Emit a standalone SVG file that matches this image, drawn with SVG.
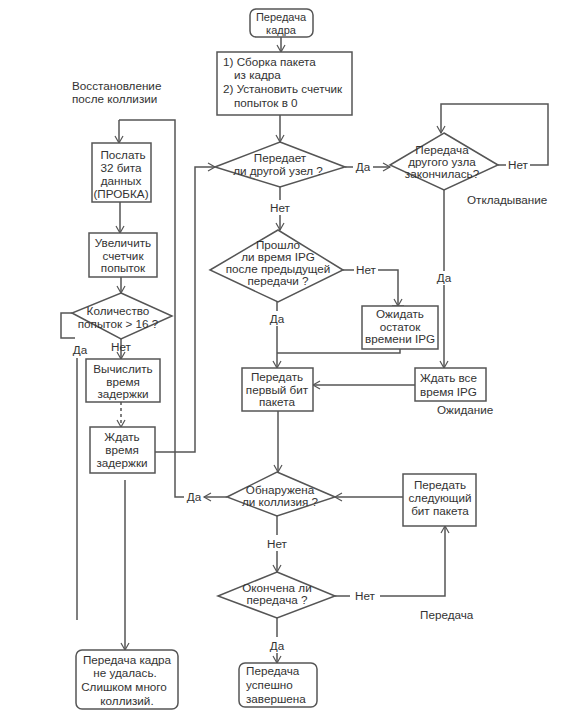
<svg xmlns="http://www.w3.org/2000/svg" width="568" height="720" viewBox="0 0 568 720">
<defs>
<marker id="arr" markerWidth="10" markerHeight="10" refX="8" refY="5" orient="auto" markerUnits="userSpaceOnUse">
<path d="M1,1 L8,5 L1,9" fill="none" stroke="#555" stroke-width="1.2"/>
</marker>
<style>
.s{fill:#fff;stroke:#555;stroke-width:1.5}
.c{fill:none;stroke:#555;stroke-width:1.5}
.ca{fill:none;stroke:#555;stroke-width:1.5;marker-end:url(#arr)}
text{font-family:"Liberation Sans",Arial,sans-serif;font-size:11.7px;fill:#333}
.m{text-anchor:middle}
</style>
</defs>
<rect width="568" height="720" fill="#fff"/>
<g id="connectors">
<path class="ca" d="M281,37 V52"/>
<path class="ca" d="M280,115 V142"/>
<path class="c" d="M345,167 H353"/>
<path class="ca" d="M373,167 H390"/>
<path class="c" d="M498,165 H506"/>
<path class="ca" d="M530,165 H548 V104 H441 V133"/>
<path class="c" d="M444,190 V271"/>
<path class="ca" d="M444,285 V368"/>
<path class="c" d="M280,187 V200"/>
<path class="ca" d="M280,215 V230"/>
<path class="c" d="M343,270 H354"/>
<path class="ca" d="M378,270 H398 V306"/>
<path class="c" d="M392,306 H404"/>
<path class="c" d="M400,349 V353 H277"/>
<path class="c" d="M277,302 V311"/>
<path class="ca" d="M277,326 V368"/>
<path class="ca" d="M415,385 H313"/>
<path class="ca" d="M278,411 V472"/>
<path class="ca" d="M403,497 H335"/>
<path class="ca" d="M227,497 H204"/>
<path class="c" d="M184,497 H175 V120 H119"/>
<path class="ca" d="M119,120 V143"/>
<path class="ca" d="M120,202 V233"/>
<path class="ca" d="M121,277 V293"/>
<path class="c" d="M72,313 H61 V338 H75"/>
<path class="ca" d="M121,339 V359"/>
<path class="ca" d="M121,402 V427" stroke-dasharray="3,3"/>
<path class="ca" d="M155,452 H195 V167 H215"/>
<path class="c" d="M77,358 V620"/>
<path class="ca" d="M125,480 V650"/>
<path class="c" d="M277,516 V535"/>
<path class="ca" d="M277,551 V572"/>
<path class="c" d="M335,596 H350"/>
<path class="ca" d="M380,596 H445 V526"/>
<path class="c" d="M277,618 V637"/>
<path class="ca" d="M277,653 V663"/>
</g>
<g id="n_start"><rect class="s" x="250" y="9" width="63" height="28" rx="6"/><text class="m" x="281" y="21" style="font-size:11px">Передача</text><text class="m" x="281" y="33.5" style="font-size:11px">кадра</text></g>
<g id="n_assemble"><rect class="s" x="217" y="52" width="135" height="63"/><text x="223" y="66">1) Сборка пакета</text><text x="234" y="79">из кадра</text><text x="223" y="93">2) Установить счетчик</text><text x="234" y="107">попыток в 0</text></g>
<g id="n_d1"><polygon class="s" points="280,142 345,167 280,187 215,167"/><text class="m" x="280" y="162">Передает</text><text class="m" x="278" y="175">ли другой узел ?</text></g>
<text class="m" x="363" y="171">Да</text>
<g id="n_d2"><polygon class="s" points="444,133 498,165 444,190 390,165"/><text class="m" x="442" y="154">Передача</text><text class="m" x="442" y="166">другого узла</text><text class="m" x="442" y="178">закончилась?</text></g>
<text class="m" x="518" y="169">Нет</text>
<text x="467" y="204">Откладывание</text>
<text class="m" x="444" y="282">Да</text>
<text class="m" x="280" y="212">Нет</text>
<g id="n_d3"><polygon class="s" points="278,230 343,270 278,302 210,270"/><text class="m" x="278" y="249">Прошло</text><text class="m" x="278" y="261">ли время IPG</text><text class="m" x="278" y="273">после предыдущей</text><text class="m" x="278" y="285">передачи ?</text></g>
<text class="m" x="366" y="274">Нет</text>
<text class="m" x="277" y="323">Да</text>
<g id="n_waitrest"><rect class="s" x="362" y="306" width="76" height="43"/><text class="m" x="400" y="318">Ожидать</text><text class="m" x="400" y="331">остаток</text><text class="m" x="400" y="343">времени IPG</text></g>
<g id="n_waitall"><rect class="s" x="415" y="368" width="71" height="33"/><text x="420" y="382">Ждать все</text><text x="420" y="396">время IPG</text></g>
<text x="437" y="414">Ожидание</text>
<g id="n_first"><rect class="s" x="242" y="368" width="71" height="43"/><text class="m" x="277" y="381">Передать</text><text class="m" x="277" y="394">первый бит</text><text class="m" x="277" y="406">пакета</text></g>
<g id="n_d4"><polygon class="s" points="277,472 335,497 277,516 227,497"/><text class="m" x="280" y="494">Обнаружена</text><text class="m" x="280" y="506">ли коллизия ?</text></g>
<text class="m" x="194" y="501">Да</text>
<g id="n_next"><rect class="s" x="403" y="474" width="73" height="52"/><text class="m" x="440" y="489">Передать</text><text class="m" x="440" y="502">следующий</text><text class="m" x="440" y="515">бит пакета</text></g>
<text class="m" x="277" y="548">Нет</text>
<g id="n_d6"><polygon class="s" points="277,572 335,596 277,618 218,596"/><text class="m" x="277" y="592">Окончена ли</text><text class="m" x="277" y="604">передача ?</text></g>
<text class="m" x="365" y="600">Нет</text>
<text x="420" y="619">Передача</text>
<text class="m" x="277" y="650">Да</text>
<g id="n_success"><rect class="s" x="239" y="663" width="78" height="44" rx="6"/><text x="246" y="675">Передача</text><text x="246" y="689">успешно</text><text x="246" y="703">завершена</text></g>
<text x="72" y="90">Восстановление</text>
<text x="72" y="103">после коллизии</text>
<g id="n_jam"><rect class="s" x="92" y="143" width="59" height="59"/><text class="m" x="123" y="159">Послать</text><text class="m" x="121" y="172">32 бита</text><text class="m" x="121" y="185">данных</text><text class="m" x="121" y="198">(ПРОБКА)</text></g>
<g id="n_inc"><rect class="s" x="89" y="233" width="68" height="44"/><text class="m" x="123" y="247">Увеличить</text><text class="m" x="123" y="260">счетчик</text><text class="m" x="123" y="272">попыток</text></g>
<g id="n_d5"><polygon class="s" points="121,293 172,316 121,339 72,313"/><text class="m" x="118" y="315">Количество</text><text class="m" x="118" y="328">попыток &gt; 16 ?</text></g>
<text class="m" x="121" y="351">Нет</text>
<text class="m" x="80" y="354">Да</text>
<g id="n_calc"><rect class="s" x="86" y="359" width="74" height="43"/><text class="m" x="123" y="373">Вычислить</text><text class="m" x="123" y="386">время</text><text class="m" x="123" y="398">задержки</text></g>
<g id="n_wait"><rect class="s" x="90" y="427" width="65" height="46"/><text class="m" x="122" y="441">Ждать</text><text class="m" x="122" y="454">время</text><text class="m" x="122" y="467">задержки</text></g>
<g id="n_fail"><rect class="s" x="76" y="650" width="102" height="59" rx="6"/><text class="m" x="127" y="664">Передача кадра</text><text class="m" x="125" y="677">не удалась.</text><text class="m" x="124" y="691">Слишком много</text><text class="m" x="127" y="705">коллизий.</text></g>
</svg>
